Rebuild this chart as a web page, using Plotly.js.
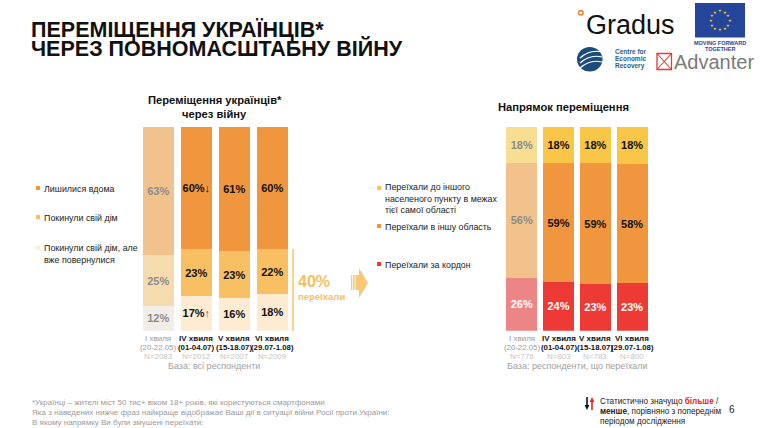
<!DOCTYPE html>
<html><head><meta charset="utf-8">
<script src="https://cdn.plot.ly/plotly-3.0.1.min.js"></script>
<style>html,body{margin:0;padding:0;background:#fff}#c{width:764px;height:428px}</style>
</head><body><div id="c"></div>
<script>
// ---------- data ----------
const waves = ['I хвиля', 'IV хвиля', 'V хвиля', 'VI хвиля'];
const dates = ['(20-22.05)', '(01-04.07)', '(15-18.07)', '(29.07-1.08)'];
const nAll = [2083, 2012, 2007, 2009];
const nMoved = [776, 803, 783, 800];
// left chart: movement of Ukrainians
const stayedHome = [63, 60, 61, 60];
const leftHome = [25, 23, 23, 22];
const leftReturned = [12, 17, 16, 18];
// significance vs previous wave: 'up' / 'down' / ''
const sigStayed = ['', 'down', '', ''];
const sigReturned = ['', 'up', '', ''];
// right chart: direction of movement
const sameOblast = [18, 18, 18, 18];
const otherOblast = [56, 59, 59, 58];
const abroad = [26, 24, 23, 23];
const movedShare = 40;

// ---------- helpers ----------
const W = 764, H = 428;
const px = x => x / W, py = y => 1 - y / H;
const FONT = 'Liberation Sans, Arial, sans-serif';
const NARROW = 'Liberation Sans Narrow, Arial Narrow, Liberation Sans, sans-serif';
const GREY = '#8c8c8c';
function lbl(v, sig) {
  let s = v + '%';
  if (sig === 'down') s += '<span style="color:#111">↓</span>';
  if (sig === 'up') s += '<span style="color:#e8241c">↑</span>';
  return '<b>' + s + '</b>';
}
const firstFaded = (faded, normal) => waves.map((_, i) => i === 0 ? faded : normal);

function barTrace(vals, sig, axis, colFaded, col, txtFaded, txt, width) {
  return {
    type: 'bar', x: waves, y: vals, xaxis: axis === 2 ? 'x2' : 'x', yaxis: axis === 2 ? 'y2' : 'y',
    width: width,
    text: vals.map((v, i) => lbl(v, sig ? sig[i] : '')),
    textposition: 'inside', insidetextanchor: 'middle', textangle: 0, constraintext: 'none',
    textfont: {family: FONT, size: 11, color: firstFaded(txtFaded, txt)},
    marker: {color: firstFaded(colFaded, col), line: {width: 0}},
    hoverinfo: 'skip', showlegend: false, cliponaxis: false
  };
}

const data = [
  barTrace(leftReturned, sigReturned, 1, '#f3ede7', '#fdebd2', GREY, '#111', 0.82),
  barTrace(leftHome, null, 1, '#f6dbae', '#f8bf63', GREY, '#111', 0.82),
  barTrace(stayedHome, sigStayed, 1, '#f1c28c', '#f0963f', GREY, '#111', 0.82),
  barTrace(abroad, null, 2, '#ec8585', '#ee3a35', '#fff', '#fff', 0.84),
  barTrace(otherOblast, null, 2, '#f1c28c', '#f0963f', GREY, '#111', 0.84),
  barTrace(sameOblast, null, 2, '#f7de92', '#f9c647', GREY, '#111', 0.84)
];

const ann = [], shapes = [];
function txt(x, y, s, o) {
  ann.push(Object.assign({xref: 'paper', yref: 'paper', x: px(x), y: py(y), text: s, showarrow: false,
    xanchor: 'left', yanchor: 'middle', align: 'left', font: {family: FONT, size: 8.9, color: '#222'}}, o || {}));
}
function rect(x0, y0, x1, y1, color, line) {
  shapes.push({type: 'rect', xref: 'paper', yref: 'paper', x0: px(x0), x1: px(x1), y0: py(y0), y1: py(y1),
    fillcolor: color, line: line || {width: 0}});
}
function path(pts, fill) {
  shapes.push({type: 'path', xref: 'paper', yref: 'paper',
    path: pts.map((p, i) => (i ? 'L' : 'M') + px(p[0]) + ',' + py(p[1])).join(' ') + ' Z', fillcolor: fill, line: {width: 0}});
}

// wave labels under each bar (placed on the category axes)
function waveLabels(axis, n) {
  waves.forEach((w, i) => {
    const c1 = i === 0 ? '#9a9a9a' : '#111';
    const base = {xref: axis, yref: 'paper', x: w, showarrow: false, xanchor: 'center', yanchor: 'middle'};
    ann.push(Object.assign({}, base, {y: py(338.5), text: i === 0 ? w : '<b>' + w + '</b>', font: {family: FONT, size: 8, color: c1}}));
    ann.push(Object.assign({}, base, {y: py(347.5), text: i === 0 ? dates[i] : '<b>' + dates[i] + '</b>', font: {family: FONT, size: 7.8, color: c1}}));
    ann.push(Object.assign({}, base, {y: py(356.5), text: 'N=' + n[i], font: {family: FONT, size: 8, color: '#c4c4c4'}}));
  });
}
waveLabels('x', nAll);
waveLabels('x2', nMoved);

// title
txt(29, 29.7, '<b>ПЕРЕМІЩЕННЯ УКРАЇНЦІВ*</b>', {font: {family: FONT, size: 21.5, color: '#111'}});
txt(29, 48.3, '<b>ЧЕРЕЗ ПОВНОМАСШТАБНУ ВІЙНУ</b>', {font: {family: FONT, size: 21.5, color: '#111'}});

// chart titles
txt(215, 100, '<b>Переміщення українців*</b>', {xanchor: 'center', font: {family: FONT, size: 11.2, color: '#111'}});
txt(215, 114, '<b>через війну</b>', {xanchor: 'center', font: {family: FONT, size: 11.2, color: '#111'}});
txt(563, 107, '<b>Напрямок переміщення</b>', {xanchor: 'center', font: {family: FONT, size: 11.2, color: '#111'}});

// left legend
rect(36, 186, 40, 190, '#f0963f'); txt(41.5, 189, 'Лишилися вдома');
rect(36, 215, 40, 219, '#f8bf63'); txt(41.5, 218, 'Покинули свій дім');
rect(36, 246, 40, 250, '#fdebd2'); txt(41.5, 254, 'Покинули свій дім, але<br>вже повернулися');
// right legend
rect(377, 186, 381, 190, '#f9c647'); txt(383, 198.5, 'Переїхали до іншого<br>населеного пункту в межах<br>тієї самої області');
rect(377, 224, 381, 228, '#f0963f'); txt(383, 227, 'Переїхали в іншу область');
rect(377, 262, 381, 266, '#ee3a35'); txt(383, 265, 'Переїхали за кордон');

// 40% moved
shapes.push({type: 'line', xref: 'paper', yref: 'paper', x0: px(293), x1: px(293), y0: py(249), y1: py(331),
  line: {color: '#f8c46a', width: 1.5}});
txt(296, 281, '<b>' + movedShare + '%</b>', {font: {family: FONT, size: 16, color: '#f7bf5e'}});
txt(296, 296, '<b>переїхали</b>', {font: {family: FONT, size: 9.5, color: '#f7bf5e'}});
// block arrow
path([[351, 275], [359, 275], [359, 268], [368, 283], [359, 298], [359, 290], [351, 290]], '#f8c878');
[352.5, 355].forEach(x => shapes.push({type: 'line', xref: 'paper', yref: 'paper', x0: px(x), x1: px(x),
  y0: py(275), y1: py(290), line: {color: '#fff', width: 0.8}}));

// bases
txt(214, 366, 'База: всі респонденти', {xanchor: 'center', font: {family: FONT, size: 9, color: '#a0a0a0'}});
txt(577, 366, 'База: респонденти, що переїхали', {xanchor: 'center', font: {family: FONT, size: 9, color: '#a0a0a0'}});

// footer
const fgrey = {family: FONT, size: 8, color: '#9a9a9a'};
txt(30, 402, '*Українці – жителі міст 50 тис+ віком 18+ років, які користуються смартфонами', {font: fgrey});
txt(30, 412, 'Яка з наведених нижче фраз найкраще відображає Ваші дії в ситуації війни Росії проти України:', {font: fgrey});
txt(30, 422, 'В якому напрямку Ви були змушені переїхати:', {font: fgrey});
// significance arrows (legend)
shapes.push({type: 'line', xref: 'paper', yref: 'paper', x0: px(587), x1: px(587), y0: py(397), y1: py(406),
  line: {color: '#111', width: 1.6}});
path([[584.6, 405], [589.4, 405], [587, 410]], '#111');
shapes.push({type: 'line', xref: 'paper', yref: 'paper', x0: px(592), x1: px(592), y0: py(410), y1: py(401),
  line: {color: '#e8241c', width: 1.6}});
path([[589.6, 402], [594.4, 402], [592, 397]], '#e8241c');
const fblk = {family: NARROW, size: 8.2, color: '#222'};
txt(597.5, 401, 'Статистично значущо <b><span style="color:#e8241c">більше</span></b> /', {font: fblk});
txt(597.5, 411, '<b>менше</b>, порівняно з попереднім', {font: fblk});
txt(597.5, 421, 'періодом дослідження', {font: fblk});
txt(727, 409, '6', {font: {family: FONT, size: 10, color: '#222'}});

// logos
shapes.push({type: 'circle', xref: 'paper', yref: 'paper', x0: px(578.5), x1: px(583), y0: py(10.5), y1: py(15),
  fillcolor: '#fff', line: {color: '#f0802a', width: 1.5}});
txt(584, 25, 'Gradus', {font: {family: FONT, size: 27, color: '#111'}});
rect(695, 3, 745, 37.5, '#25459b');
for (let k = 0; k < 12; k++) {
  const a = k * Math.PI / 6;
  txt(720 + 9.5 * Math.cos(a), 20.5 + 9.5 * Math.sin(a), '★', {xanchor: 'center', font: {family: 'DejaVu Sans', size: 4, color: '#ffdd00'}});
}
txt(720, 43, '<b>MOVING FORWARD</b>', {xanchor: 'center', font: {family: FONT, size: 5.5, color: '#25459b'}});
txt(720, 49, '<b>TOGETHER</b>', {xanchor: 'center', font: {family: FONT, size: 5.5, color: '#25459b'}});
shapes.push({type: 'circle', xref: 'paper', yref: 'paper', x0: px(577), x1: px(602.5), y0: py(47), y1: py(71.5),
  fillcolor: '#1d4c7c', line: {width: 0}});
[54, 59, 64].forEach(y => shapes.push({type: 'path', xref: 'paper', yref: 'paper',
  path: 'M' + px(580) + ',' + py(y + 4) + ' Q' + px(590) + ',' + py(y - 5) + ' ' + px(602) + ',' + py(y - 2),
  line: {color: '#fff', width: 1.2}}));
txt(613, 51.5, '<b>Centre for</b>', {font: {family: FONT, size: 6.5, color: '#2d5b8a'}});
txt(613, 58.5, '<b>Economic</b>', {font: {family: FONT, size: 6.5, color: '#2d5b8a'}});
txt(613, 65.5, '<b>Recovery</b>', {font: {family: FONT, size: 6.5, color: '#2d5b8a'}});
rect(657, 53.5, 671.5, 69.5, 'rgba(0,0,0,0)', {color: '#e03a3a', width: 1.3});
shapes.push({type: 'path', xref: 'paper', yref: 'paper',
  path: 'M' + px(657) + ',' + py(53.5) + ' L' + px(671.5) + ',' + py(69.5) + ' M' + px(671.5) + ',' + py(53.5) + ' L' + px(657) + ',' + py(69.5),
  line: {color: '#e03a3a', width: 1.1}});
txt(672, 62, 'Advanter', {font: {family: FONT, size: 20, color: '#7a7a7a'}});

const axX = (d) => ({domain: d, type: 'category', range: [-0.5, 3.5], showgrid: false, zeroline: false, showline: false,
  ticks: '', showticklabels: false, fixedrange: true});
const axY = {domain: [py(330.7), py(126)], range: [0, 100.3], visible: false, fixedrange: true};

const layout = {
  width: W, height: H, margin: {l: 0, r: 0, t: 0, b: 0}, paper_bgcolor: '#fff', plot_bgcolor: '#fff',
  barmode: 'stack', barnorm: 'percent', showlegend: false, font: {family: FONT},
  xaxis: axX([px(139.3), px(291.3)]),
  yaxis: Object.assign({}, axY),
  xaxis2: Object.assign(axX([px(503.4), px(650.6)]), {anchor: 'y2'}),
  yaxis2: Object.assign({}, axY, {anchor: 'x2'}),
  annotations: ann, shapes: shapes
};
Plotly.newPlot('c', data, layout, {displayModeBar: false, staticPlot: true});
</script></body></html>
